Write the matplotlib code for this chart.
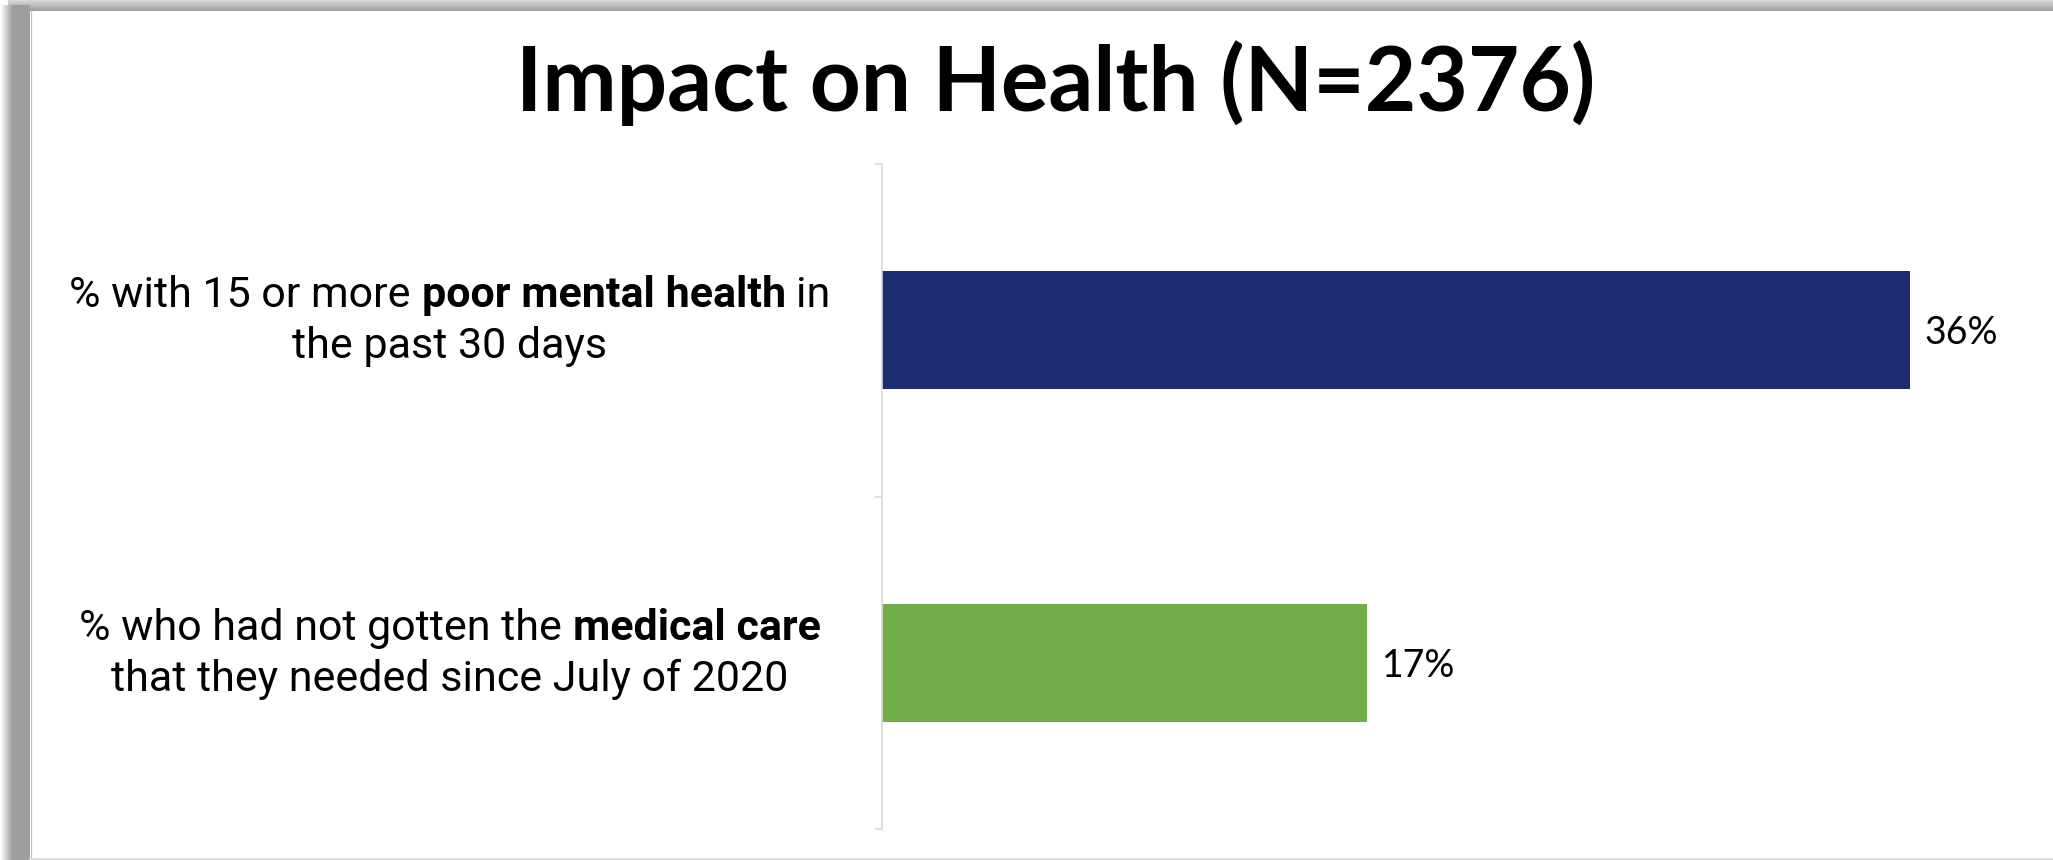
import matplotlib
matplotlib.use("Agg")
import matplotlib.pyplot as plt
import numpy as np

# chart content
TITLE = "Impact on Health (N=2376)"
# each category label is a list of lines, each line a list of (text, bold) pieces
LABELS = [
    [[("% with 15 or more", False), ("poor mental health", True), ("in", False)],
     [("the past 30 days", False)]],
    [[("% who had not gotten the", False), ("medical care", True)],
     [("that they needed since July of 2020", False)]],
]
VALUES = [36, 17]
COLORS = ["#1b2c70", "#70ad47"]

W, H = 2053, 860
DPI = 100
LABEL_FONT = "Roboto"
LABEL_SIZE = 31
LABEL_CX = 450          # centre of the category labels, figure pixels
LINE_DY = [23, -28]     # baseline offset of each label line from bar centre, pixels

fig = plt.figure(figsize=(W / DPI, H / DPI), dpi=DPI)
fig.patch.set_facecolor("white")

# slide frame / shadow around the chart
bg = fig.add_axes([0, 0, 1, 1], zorder=-5)
top = np.linspace(0.84, 0.63, 12)[:, None] * np.ones((1, 2))
bg.imshow(top, cmap="gray", vmin=0, vmax=1, extent=(8, W, 11, 0),
          aspect="auto", interpolation="bilinear")
left = np.concatenate([np.linspace(1.0, 0.62, 13), np.full(17, 0.62)])[None, :]
bg.imshow(left, cmap="gray", vmin=0, vmax=1, extent=(0, 30, H, 5),
          aspect="auto", interpolation="bilinear")
bg.plot([30.5, 30.5], [11, H], color="#c4c4c4", lw=0.9)
bg.plot([30, W], [858.5, 858.5], color="#dedede", lw=1.4)
bg.set_xlim(0, W)
bg.set_ylim(H, 0)
bg.axis("off")

ax = fig.add_axes([882 / W, 31 / H, 1142 / W, 665 / H])
ax.set_facecolor("none")
ypos = np.arange(len(VALUES))
ax.barh(ypos, VALUES, height=0.355, color=COLORS)
ax.set_xlim(0, 40)
ax.set_ylim(len(VALUES) - 0.5, -0.5)

for s in ["top", "right", "bottom"]:
    ax.spines[s].set_visible(False)
ax.spines["left"].set_color("#d9d9d9")
ax.spines["left"].set_linewidth(1.2)
ax.set_xticks([])
ax.set_yticks(np.arange(len(VALUES) + 1) - 0.5)
ax.set_yticklabels([])
ax.tick_params(axis="y", length=5, width=1.2, color="#d9d9d9")

# value labels
for i, v in enumerate(VALUES):
    ax.annotate(f"{v}%", xy=(v, i), xytext=(15, -14), textcoords="offset pixels",
                ha="left", va="baseline", fontsize=27, family="Lato", color="black")

# category labels with bold pieces
renderer = fig.canvas.get_renderer()


def text_width(s, weight):
    t = fig.text(0, 0, s, fontsize=LABEL_SIZE, family=LABEL_FONT, weight=weight)
    w = t.get_window_extent(renderer).width
    t.remove()
    return w


space = text_width("x x", "normal") - text_width("xx", "normal")

for i, lines in enumerate(LABELS):
    for j, pieces in enumerate(lines):
        weights = ["bold" if b else "normal" for _, b in pieces]
        widths = [text_width(s, w) for (s, _), w in zip(pieces, weights)]
        x = LABEL_CX - (sum(widths) + space * (len(pieces) - 1)) / 2
        for (s, _), wt, w in zip(pieces, weights, widths):
            ax.annotate(s, xy=(x, i), xycoords=("figure pixels", "data"),
                        xytext=(0, LINE_DY[j]), textcoords="offset pixels",
                        ha="left", va="baseline", fontsize=LABEL_SIZE,
                        family=LABEL_FONT, weight=wt, color="black",
                        annotation_clip=False)
            x += w + space

fig.text(1056 / W, 1 - 111 / H, TITLE, ha="center", va="baseline",
         fontsize=64, family="Lato", weight="bold", color="black")

fig.savefig("out.png", dpi=DPI)
